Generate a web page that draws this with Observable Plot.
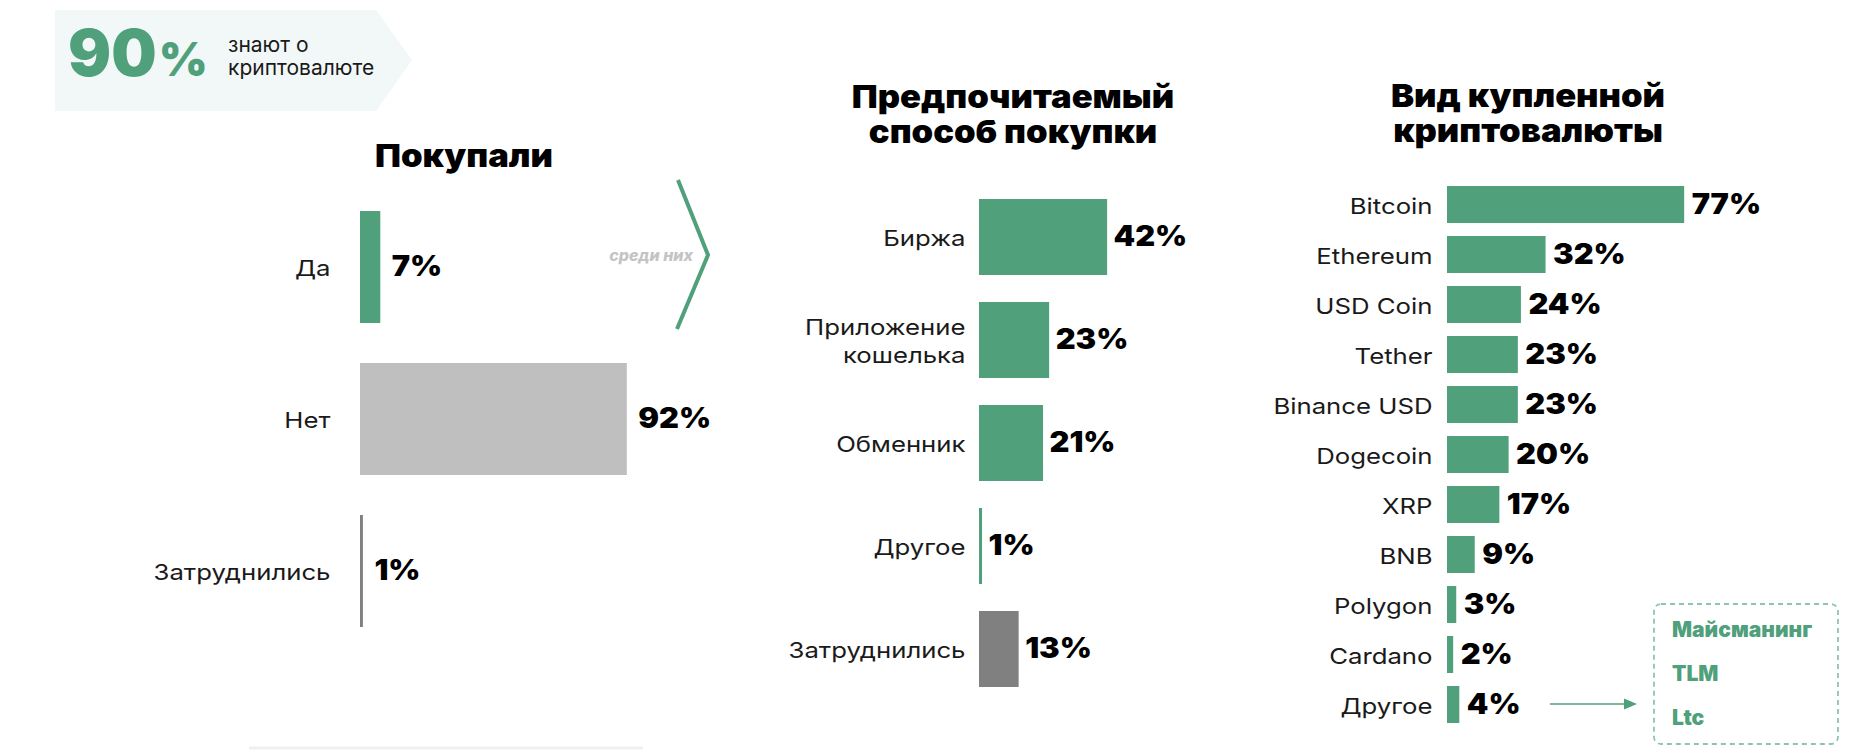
<!DOCTYPE html>
<html><head><meta charset="utf-8">
<script src="https://cdn.jsdelivr.net/npm/d3@7"></script>
<script src="https://cdn.jsdelivr.net/npm/@observablehq/plot@0.6"></script>
<style>
html,body{margin:0;padding:0;background:#fff;}
#root{position:relative;width:1868px;height:752px;overflow:hidden;background:#fff;}
#root svg{position:absolute;left:0;top:0;}
</style></head><body><div id="root"></div>
<script>
// ---- data ----
const awareValue = 90;
const awareText = ["знают о", "криптовалюте"];

const boughtTitle = "Покупали";
const boughtCats = ["Да", "Нет", "Затруднились"];
const boughtValues = [7, 92, 1];

const methodTitle = ["Предпочитаемый", "способ покупки"];
const methodCats = ["Биржа", "Приложение кошелька", "Обменник", "Другое", "Затруднились"];
const methodValues = [42, 23, 21, 1, 13];

const coinTitle = ["Вид купленной", "криптовалюты"];
const coinCats = ["Bitcoin", "Ethereum", "USD Coin", "Tether", "Binance USD", "Dogecoin", "XRP", "BNB", "Polygon", "Cardano", "Другое"];
const coinValues = [77, 32, 24, 23, 23, 20, 17, 9, 3, 2, 4];

const otherCoins = ["Майсманинг", "TLM", "Ltc"];
const amongText = "среди них";

// ---- style ----
const GREEN = "#4fa07b";
const LIGHT = "#bfbfbf";
const DARK = "#808080";
const LABEL_FONT = "Inter, 'Noto Sans', sans-serif";
const HEAVY_FONT = "Inter, 'DejaVu Sans', sans-serif";
const W = 1868, H = 752;
const root = document.getElementById("root");

// widen glyphs horizontally (the original uses a wide geometric typeface)
function stretch(nodes, k) {
  nodes.forEach(t => {
    let tr = t.getAttribute("transform") || "";
    const x = t.getAttribute("x");
    if (x !== null && !/em$/.test(x) && +x) {
      tr += ` translate(${+x},0)`;
      t.removeAttribute("x");
    }
    t.setAttribute("transform", tr + ` scale(${k},1)`);
  });
}

function bars({cats, values, colors, left, pxPerPct, top, bottom, padding, tickPadding, dx}) {
  const data = cats.map((c, i) => ({cat: c, value: values[i]}));
  const chart = Plot.plot({
    width: W, height: H,
    marginLeft: left, marginRight: W - left - pxPerPct * 100,
    marginTop: top, marginBottom: H - bottom,
    style: {background: "transparent", fontFamily: LABEL_FONT, color: "#1a1a1a", overflow: "visible"},
    x: {domain: [0, 100], axis: null},
    y: {domain: cats, padding, axis: null},
    color: {domain: cats, range: colors},
    marks: [
      Plot.barX(data, {x: "value", y: "cat", fill: "cat"}),
      Plot.axisY({tickSize: 0, tickPadding, fontSize: 22, fontFamily: LABEL_FONT,
                  tickFormat: d => d.replace(" кошелька", "\nкошелька"), lineHeight: 1.27, label: null}),
      Plot.text(data, {x: "value", y: "cat", text: d => d.value + "%", dx, textAnchor: "start",
                       fontSize: 28, fontWeight: 900, fontFamily: HEAVY_FONT, fill: "#000"})
    ]
  });
  stretch(chart.querySelectorAll('g[aria-label="y-axis tick label"] text'), 1.17);
  stretch(chart.querySelectorAll('g[aria-label="text"] text'), 1.1);
  return chart;
}

root.appendChild(bars({cats: boughtCats, values: boughtValues, colors: [GREEN, LIGHT, DARK],
  left: 360, pxPerPct: 2.9, top: 169.5, bottom: 667.5, padding: 0.2656, tickPadding: 30, dx: 11}));
root.appendChild(bars({cats: methodCats, values: methodValues, colors: [GREEN, GREEN, GREEN, GREEN, DARK],
  left: 979, pxPerPct: 3.05, top: 170, bottom: 717, padding: 0.26, tickPadding: 14, dx: 6}));
root.appendChild(bars({cats: coinCats, values: coinValues, colors: coinCats.map(() => GREEN),
  left: 1447, pxPerPct: 3.08, top: 171.8, bottom: 737.2, padding: 0.263, tickPadding: 15, dx: 7}));

// ---- decorations & titles ----
const svg = d3.select(root).append("svg").attr("width", W).attr("height", H)
  .style("pointer-events", "none");

svg.append("polygon").attr("points", "55,10 376,10 412,60 376,111 55,111").attr("fill", "#f2f8f7");
const big = svg.append("text").attr("x", 68).attr("y", 76).attr("fill", GREEN)
  .attr("font-family", HEAVY_FONT).attr("font-weight", 900);
big.append("tspan").attr("font-size", 64).text(awareValue);
big.append("tspan").attr("font-size", 47).attr("dx", 2).text("%");
awareText.forEach((t, i) => svg.append("text").attr("x", 228).attr("y", 52 + i * 23)
  .attr("font-family", LABEL_FONT).attr("font-size", 21).attr("fill", "#1a1a1a").text(t));

function title(lines, cx, y0) {
  lines.forEach((t, i) => svg.append("text")
    .attr("transform", `translate(${cx},${y0 + i * 35}) scale(1.08,1)`)
    .attr("text-anchor", "middle").attr("font-family", HEAVY_FONT).attr("font-weight", 900)
    .attr("font-size", 32).attr("fill", "#000").text(t));
}
title([boughtTitle], 464, 167);
title(methodTitle, 1013, 108);
title(coinTitle, 1528, 107);

svg.append("text").attr("x", 693).attr("y", 261).attr("text-anchor", "end")
  .attr("font-family", HEAVY_FONT).attr("font-weight", 800).attr("font-style", "italic")
  .attr("font-size", 16).attr("fill", "#c4c4c4").text(amongText);
svg.append("polyline").attr("points", "678,180 708,255 677,329").attr("fill", "none")
  .attr("stroke", GREEN).attr("stroke-width", 4);

svg.append("line").attr("x1", 249).attr("x2", 643).attr("y1", 748).attr("y2", 748)
  .attr("stroke", "#f0f0f0").attr("stroke-width", 3);

// arrow
svg.append("line").attr("x1", 1550).attr("x2", 1626).attr("y1", 704).attr("y2", 704)
  .attr("stroke", GREEN).attr("stroke-width", 1.5);
svg.append("polygon").attr("points", "1637,704 1624,698.5 1624,709.5").attr("fill", GREEN);

// dashed box
svg.append("rect").attr("x", 1654).attr("y", 604).attr("width", 184).attr("height", 140)
  .attr("rx", 7).attr("fill", "none").attr("stroke", "#8ec5ab").attr("stroke-width", 1.8)
  .attr("stroke-dasharray", "5,4");
otherCoins.forEach((t, i) => svg.append("text").attr("x", 1672).attr("y", 637 + i * 44)
  .attr("font-family", HEAVY_FONT).attr("font-weight", 900).attr("font-size", 21)
  .attr("fill", GREEN).text(t));
</script></body></html>
